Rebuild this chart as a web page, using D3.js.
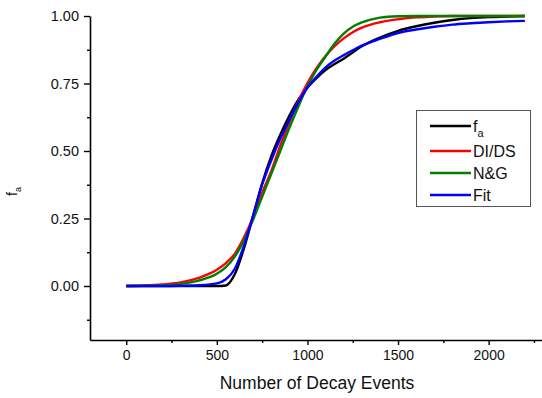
<html>

<head>
    <script src="https://d3js.org/d3.v7.min.js"></script>
    <style>
        body {
            margin: 0;
            background: #fff;
        }

        text {
            font-family: "Liberation Sans", Arial, sans-serif;
        }

        .axis .domain {
            stroke: #000;
            stroke-width: 1.6;
        }

        .axis line {
            stroke: #000;
            stroke-width: 1.4;
        }
    </style>
</head>

<body>
    <svg height="398" width="542"></svg>

    <script>
        // decay events (x) shared by every series
        const events = [0, 100, 200, 300, 400, 500, 550, 600, 650, 700, 750, 800, 850, 900, 950, 1000,
            1050, 1100, 1150, 1200, 1250, 1300, 1400, 1500, 1600, 1700, 1800, 1900, 2000, 2100, 2200];

        const fa = [0, 0, 0, 0, 0, 0, 0.002, 0.045, 0.14, 0.26, 0.38, 0.48, 0.56, 0.63, 0.69, 0.735,
            0.77, 0.80, 0.822, 0.842, 0.865, 0.888, 0.92, 0.945, 0.962, 0.975, 0.985, 0.992, 0.996, 0.998, 1.0];
        const didsVals = [0, 0.002, 0.006, 0.013, 0.03, 0.06, 0.085, 0.12, 0.18, 0.255, 0.345, 0.425, 0.52, 0.605, 0.685, 0.752,
            0.807, 0.852, 0.888, 0.917, 0.94, 0.957, 0.977, 0.988, 0.995, 0.998, 1.0, 1.0, 1.0, 1.0, 1.0];
        const ngVals = [0, 0.001, 0.003, 0.008, 0.02, 0.045, 0.07, 0.11, 0.17, 0.245, 0.33, 0.415, 0.5, 0.585, 0.665, 0.74,
            0.8, 0.85, 0.898, 0.935, 0.96, 0.976, 0.994, 0.999, 1.0, 1.0, 1.0, 1.0, 1.0, 1.0, 1.0];
        const fitVals = [0, 0, 0, 0.001, 0.003, 0.01, 0.025, 0.065, 0.15, 0.26, 0.375, 0.465, 0.545, 0.615, 0.68, 0.735,
            0.775, 0.81, 0.835, 0.855, 0.873, 0.89, 0.915, 0.937, 0.95, 0.96, 0.968, 0.973, 0.977, 0.98, 0.982];

        const seriesNames = ["fa", "DI/DS", "N&G", "Fit"];
        const seriesColors = ["#000000", "#ff0000", "#008000", "#0000ff"];
        const seriesValues = [fa, didsVals, ngVals, fitVals];

        const xTicks = [0, 500, 1000, 1500, 2000];
        const xMinor = [250, 750, 1250, 1750, 2250];
        const yTicks = [0, 0.25, 0.5, 0.75, 1.0];
        const yMinor = [-0.125, 0.125, 0.375, 0.625, 0.875];

        const svg = d3.select("svg");

        const xScale = d3.scaleLinear().domain([-200, 2300]).range([90, 543]);
        const yScale = d3.scaleLinear().domain([-0.2, 1.0]).range([340, 16]);

        // axes (left + bottom only)
        svg.append("g")
            .attr("class", "x axis")
            .attr("transform", `translate(0,${yScale(-0.2)})`)
            .call(d3.axisBottom(xScale).tickValues(xTicks).tickSize(5).tickSizeOuter(0).tickPadding(5)
                .tickFormat(d3.format("d")))
            .call(g => g.selectAll("text").attr("font-size", 14).attr("fill", "#111"));

        svg.append("g")
            .attr("class", "x axis")
            .attr("transform", `translate(0,${yScale(-0.2)})`)
            .call(d3.axisBottom(xScale).tickValues(xMinor).tickSize(3).tickFormat("").tickSizeOuter(0))
            .call(g => g.select(".domain").remove());

        svg.append("g")
            .attr("class", "y axis")
            .attr("transform", `translate(${xScale(-200)},0)`)
            .call(d3.axisLeft(yScale).tickValues(yTicks).tickSize(6).tickSizeOuter(0).tickPadding(5)
                .tickFormat(d3.format(".2f")))
            .call(g => g.selectAll("text").attr("font-size", 14.5).attr("fill", "#111"));

        svg.append("g")
            .attr("class", "y axis")
            .attr("transform", `translate(${xScale(-200)},0)`)
            .call(d3.axisLeft(yScale).tickValues(yMinor).tickSize(3).tickFormat("").tickSizeOuter(0))
            .call(g => g.select(".domain").remove());

        // axis titles
        svg.append("text")
            .attr("x", 317)
            .attr("y", 389)
            .attr("text-anchor", "middle")
            .attr("font-size", 17.5)
            .attr("fill", "#111")
            .text("Number of Decay Events");

        let yTitle = svg.append("text")
            .attr("transform", "translate(17,196) rotate(-90)")
            .attr("font-size", 14)
            .attr("fill", "#111");
        yTitle.append("tspan").text("f");
        yTitle.append("tspan").attr("font-size", 9).attr("dy", 4).text("a");

        // curves
        const line = d3.line()
            .x((d, i) => xScale(events[i]))
            .y(d => yScale(d))
            .curve(d3.curveMonotoneX);

        seriesValues.forEach((vals, k) => {
            svg.append("path")
                .attr("d", line(vals))
                .attr("fill", "none")
                .attr("stroke", seriesColors[k])
                .attr("stroke-width", 2.4)
                .attr("stroke-linejoin", "round");
        });

        // legend
        let legend = svg.append("g");
        legend.append("rect")
            .attr("x", 416.5).attr("y", 110.5)
            .attr("width", 114).attr("height", 96)
            .attr("fill", "#fff")
            .attr("stroke", "#555")
            .attr("stroke-width", 1);

        const legendY = [126, 151, 173, 195];
        seriesNames.forEach((name, k) => {
            legend.append("line")
                .attr("x1", 430).attr("x2", 471)
                .attr("y1", legendY[k]).attr("y2", legendY[k])
                .attr("stroke", seriesColors[k])
                .attr("stroke-width", 2.4);
            let t = legend.append("text")
                .attr("x", 473)
                .attr("y", legendY[k] + 6)
                .attr("font-size", 16)
                .attr("fill", "#111");
            if (name === "fa") {
                t.append("tspan").text("f");
                t.append("tspan").attr("font-size", 11).attr("dy", 5).text("a");
            } else {
                t.text(name);
            }
        });
    </script>
</body>

</html>
